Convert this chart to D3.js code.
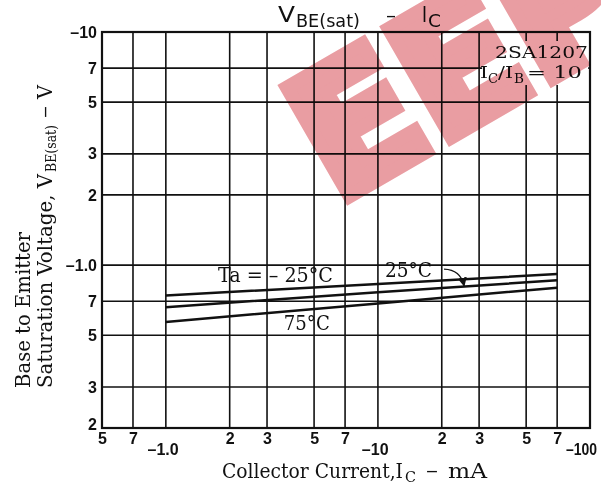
<!DOCTYPE html>
<html>
<head>
<meta charset="utf-8">
<script src="https://cdn.jsdelivr.net/npm/d3@7"></script>
<style>
  body { margin: 0; background: #fff; }
  svg { display: block; }
  .tick text { font-family: "Liberation Sans", Arial, sans-serif; font-weight: bold; font-size: 16px; fill: #111; }
  .serif { font-family: "DejaVu Serif", "Liberation Serif", serif; fill: #111; }
</style>
</head>
<body>
<div id="chart"></div>
<script>
// collector current (mA, magnitude) and V_BE(sat) (V, magnitude)
var currents = [ 1, 10, 70 ];
var vbeM25 = [ 0.74, 0.83, 0.915 ];
var vbe25 = [ 0.66, 0.765, 0.86 ];
var vbe75 = [ 0.57, 0.685, 0.80 ];

var xTicks = [ 0.5, 0.7, 1, 2, 3, 5, 7, 10, 20, 30, 50, 70, 100 ];
var xTickLabels = [ '5', '7', '–1.0', '2', '3', '5', '7', '–10', '2', '3', '5', '7', '–100' ];
var yTicks = [ 0.2, 0.3, 0.5, 0.7, 1, 2, 3, 5, 7, 10 ];
var yTickLabels = [ '2', '3', '5', '7', '–1.0', '2', '3', '5', '7', '–10' ];

var width = 601, height = 488;
var m = { top: 32, right: 11, bottom: 60, left: 102 };
var w = width - m.left - m.right, h = height - m.top - m.bottom;

var svg = d3.select( '#chart' ).append( 'svg' )
	.attr( 'width', width )
	.attr( 'height', height );

// small helper: text stretched to a set length
function label( parent, x, y, str, size, len, cls ) {
	var t = parent.append( 'text' ).attr( 'class', cls || 'serif' )
		.attr( 'x', x ).attr( 'y', y )
		.style( 'font-size', size + 'px' )
		.text( str );
	if ( len ) t.attr( 'textLength', len ).attr( 'lengthAdjust', 'spacingAndGlyphs' );
	return t;
}

var g = svg.append( 'g' ).attr( 'transform', 'translate(' + m.left + ',' + m.top + ')' );

var x = d3.scaleLog().domain( [ 0.5, 100 ] ).range( [ 0, w ] );
var y = d3.scaleLog().domain( [ 0.2, 10 ] ).range( [ h, 0 ] );

// grid
g.append( 'g' ).selectAll( 'line' ).data( xTicks ).enter().append( 'line' )
	.attr( 'x1', function ( d ) { return x( d ); } )
	.attr( 'x2', function ( d ) { return x( d ); } )
	.attr( 'y1', 0 ).attr( 'y2', h )
	.attr( 'stroke', '#111' ).attr( 'stroke-width', 1.6 );
g.append( 'g' ).selectAll( 'line' ).data( yTicks ).enter().append( 'line' )
	.attr( 'y1', function ( d ) { return y( d ); } )
	.attr( 'y2', function ( d ) { return y( d ); } )
	.attr( 'x1', 0 ).attr( 'x2', w )
	.attr( 'stroke', '#111' ).attr( 'stroke-width', 1.6 );

// part annotation box hides the grid behind it
g.append( 'rect' ).attr( 'x', x( 31 ) ).attr( 'y', 9 )
	.attr( 'width', x( 98 ) - x( 31 ) ).attr( 'height', 44 )
	.attr( 'fill', '#fff' );

g.append( 'rect' ).attr( 'width', w ).attr( 'height', h )
	.attr( 'fill', 'none' ).attr( 'stroke', '#111' ).attr( 'stroke-width', 2.2 );

// axes (labels only)
var xAxis = g.append( 'g' ).attr( 'transform', 'translate(0,' + h + ')' )
	.call( d3.axisBottom( x ).tickValues( xTicks ).tickSize( 0 ).tickPadding( 5 )
		.tickFormat( function ( d, i ) { return xTickLabels[i]; } ) );
xAxis.select( '.domain' ).remove();
xAxis.selectAll( '.tick text' ).attr( 'dy', function ( d, i ) {
	return xTickLabels[i].indexOf( '–' ) === 0 ? '1.35em' : '0.71em';
} ).attr( 'dx', function ( d, i ) {
	return xTickLabels[i].indexOf( '–' ) === 0 ? '-0.2em' : 0;
} );
xAxis.selectAll( '.tick text' ).filter( function ( d ) { return d === 100; } )
	.attr( 'text-anchor', 'end' ).attr( 'dx', '0.4em' )
	.attr( 'textLength', 31 ).attr( 'lengthAdjust', 'spacingAndGlyphs' );

var yAxis = g.append( 'g' )
	.call( d3.axisLeft( y ).tickValues( yTicks ).tickSize( 0 ).tickPadding( 5 )
		.tickFormat( function ( d, i ) { return yTickLabels[i]; } ) );
yAxis.select( '.domain' ).remove();
yAxis.selectAll( '.tick text' ).filter( function ( d ) { return d === 0.2; } ).attr( 'dy', '0.1em' );

// curves
var line = d3.line()
	.x( function ( d ) { return x( d[0] ); } )
	.y( function ( d ) { return y( d[1] ); } );
[ vbeM25, vbe25, vbe75 ].forEach( function ( s ) {
	g.append( 'path' )
		.datum( currents.map( function ( c, i ) { return [ c, s[i] ]; } ) )
		.attr( 'd', line )
		.attr( 'fill', 'none' ).attr( 'stroke', '#111' ).attr( 'stroke-width', 2.5 );
} );

// curve labels
label( g, x( 1.76 ), y( 0.845 ), 'Ta = – 25°C', 20, 115 );
label( g, x( 10.8 ), y( 0.885 ), '25°C', 20, 47 );
label( g, x( 3.6 ), y( 0.525 ), '75°C', 20, 46 );

// arrow from 25°C label
svg.append( 'defs' ).append( 'marker' ).attr( 'id', 'arr' )
	.attr( 'viewBox', '0 0 10 10' ).attr( 'refX', 9 ).attr( 'refY', 5 )
	.attr( 'markerWidth', 7 ).attr( 'markerHeight', 7 ).attr( 'orient', 'auto' )
	.append( 'path' ).attr( 'd', 'M0,0L10,5L0,10z' ).attr( 'fill', '#111' );
g.append( 'path' )
	.attr( 'd', 'M' + x( 20.5 ) + ',' + y( 0.96 ) + 'Q' + x( 24.5 ) + ',' + y( 0.955 ) + ' ' + x( 25.5 ) + ',' + y( 0.815 ) )
	.attr( 'fill', 'none' ).attr( 'stroke', '#111' ).attr( 'stroke-width', 1.3 )
	.attr( 'marker-end', 'url(#arr)' );

// part annotation
label( svg, 495, 58, '2SA1207', 17, 93 );
label( svg, 480, 78, 'I', 17, 8 );
label( svg, 488, 83, 'C', 13, 10 );
label( svg, 498, 78, '/I', 17, 15 );
label( svg, 514, 83, 'B', 13, 10 );
label( svg, 527, 78, '= 10', 17, 55 );

// title
var tf = '"DejaVu Sans", sans-serif';
label( svg, 278, 22, 'V', 22, 17 ).style( 'font-family', tf );
label( svg, 296, 27, 'BE(sat)', 17, 64 ).style( 'font-family', tf );
label( svg, 386, 22, '–', 20, 10 ).style( 'font-family', tf );
label( svg, 422, 22, 'I', 22, 5 ).style( 'font-family', tf );
label( svg, 428, 27, 'C', 18, 13 ).style( 'font-family', tf );

// x label
label( svg, 222, 478, 'Collector Current,I', 20, 181 );
label( svg, 405, 482, 'C', 14, 11 );
label( svg, 426, 477, '–', 20, 12 );
label( svg, 448, 478, 'mA', 20, 39 );

// y label
var yl = svg.append( 'g' ).attr( 'transform', 'translate(0,388) rotate(-90)' );
label( yl, 0, 30, 'Base to Emitter', 20, 156 );
label( yl, 0, 52, 'Saturation Voltage, V', 20, 214 );
label( yl, 216, 56, 'BE(sat)', 14, 47 );
label( yl, 270, 51, '–', 20, 12 );
label( yl, 289, 52, 'V', 20, 14 );

// watermark, multiplied over the drawing
svg.append( 'text' )
	.attr( 'x', 336 ).attr( 'y', 204 )
	.attr( 'transform', 'rotate(-30,336,204)' )
	.style( 'font-family', '"DejaVu Sans", sans-serif' )
	.style( 'font-weight', 'bold' )
	.style( 'font-size', '172px' )
	.style( 'fill', '#e99da2' )
	.style( 'stroke', '#e99da2' )
	.style( 'stroke-width', 14 )
	.style( 'stroke-linejoin', 'miter' )
	.style( 'mix-blend-mode', 'multiply' )
	.text( 'EEPW' );
</script>
</body>
</html>
